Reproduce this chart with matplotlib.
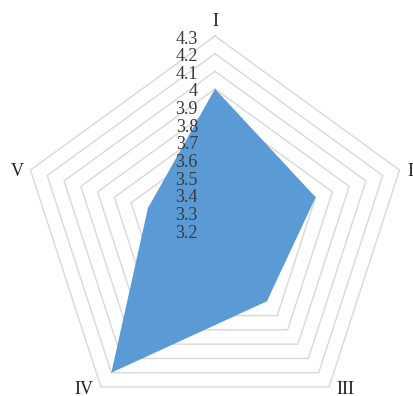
import numpy as np
import matplotlib
matplotlib.use("Agg")
import matplotlib.pyplot as plt
from matplotlib.transforms import offset_copy

categories = ["I", "II", "III", "IV", "V"]
values = [4.0, 3.8, 3.7, 4.2, 3.6]
tick_values = [3.2, 3.3, 3.4, 3.5, 3.6, 3.7, 3.8, 3.9, 4.0, 4.1, 4.2, 4.3]
tick_labels = ["3.2", "3.3", "3.4", "3.5", "3.6", "3.7", "3.8", "3.9", "4", "4.1", "4.2", "4.3"]

plt.rcParams['font.family'] = ['Liberation Serif', 'DejaVu Serif']

W, H = 413, 396
fig = plt.figure(figsize=(W / 100, H / 100), dpi=100)
cx, cy, R = 215, 230, 194
ax = fig.add_axes([(cx - R) / W, (H - cy - R) / H, 2 * R / W, 2 * R / H], projection='polar')
ax.set_theta_zero_location('N')
ax.set_theta_direction(-1)
ax.set_ylim(tick_values[0], tick_values[-1])
ax.grid(False)
ax.set_xticks([])
ax.set_yticks([])
ax.spines['polar'].set_visible(False)
ax.patch.set_alpha(0)

n = len(categories)
angles = np.linspace(0, 2 * np.pi, n, endpoint=False)
closed = np.concatenate([angles, angles[:1]])

# pentagon grid rings
for t in tick_values[1:]:
    ax.plot(closed, [t] * (n + 1), color='#ddd7d3', lw=1.0, zorder=1, clip_on=False)

vals = values + values[:1]
ax.fill(closed, vals, color='#5b9bd5', zorder=2, lw=0)

# tick labels along axis I
tr = offset_copy(ax.transData, fig=fig, x=-17, y=-3, units='dots')
for t, lab in zip(tick_values, tick_labels):
    ax.text(0, t, lab, transform=tr, ha='right', va='center', fontsize=13,
            color='#3a3a3a', zorder=5, clip_on=False)

# category labels (small pixel nudges like the original layout)
nudges = [(0, 0), (0, -6), (8, 9), (-9, 9), (0, -6)]
for a, c, (dx, dy) in zip(angles, categories, nudges):
    trc = offset_copy(ax.transData, fig=fig, x=dx, y=dy, units='dots')
    ax.text(a, 4.38, c, transform=trc, ha='center', va='center', fontsize=13,
            color='#202020', clip_on=False)

fig.savefig("out.png", dpi=100)
